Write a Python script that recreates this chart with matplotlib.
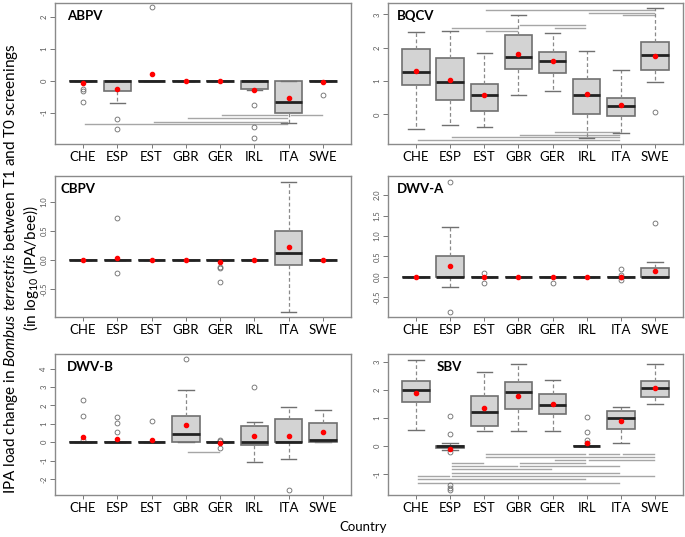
import matplotlib
matplotlib.use("Agg")
import matplotlib.pyplot as plt

countries = ['CHE', 'ESP', 'EST', 'GBR', 'GER', 'IRL', 'ITA', 'SWE']

# ABPV
abpv_q1 = [0, -0.32, 0, 0, 0, -0.27, -1.02, 0]
abpv_med = [0, 0, 0, 0, 0, 0, -0.67, 0]
abpv_q3 = [0, 0, 0, 0, 0, 0, 0, 0]
abpv_lo = [0, -0.71, 0, 0, 0, -0.28, -1.34, 0]
abpv_hi = [0, 0, 0, 0, 0, 0, 0, 0]
abpv_mean = [-0.06, -0.25, 0.22, 0, 0, -0.28, -0.55, -0.03]
abpv_out = [[-0.26, -0.31, -0.67], [-1.19, -1.51], [2.32], [], [],
            [-0.75, -1.46, -1.79], [], [-0.45]]
abpv_sig = [(0, 6, -1.37), (2, 6, -1.29), (3, 6, -1.18), (4, 6, -1.09), (6, 7, -1.09)]

# BQCV
bqcv_q1 = [0.89, 0.44, 0.10, 1.36, 1.24, 0.00, -0.05, 1.34]
bqcv_med = [1.27, 0.96, 0.59, 1.72, 1.61, 0.59, 0.25, 1.79]
bqcv_q3 = [1.96, 1.68, 0.90, 2.39, 1.86, 1.06, 0.50, 2.17]
bqcv_lo = [-0.45, -0.32, -0.37, 0.59, 0.69, -0.71, -0.57, 0.97]
bqcv_hi = [2.48, 2.51, 1.85, 2.99, 2.45, 1.90, 1.34, 3.20]
bqcv_mean = [1.30, 1.03, 0.57, 1.80, 1.59, 0.61, 0.27, 1.74]
bqcv_out = [[], [], [], [], [], [], [], [0.06]]
bqcv_sig = [(2, 7, 3.12), (5, 7, 3.05), (6, 7, 2.97), (3, 5, 2.67), (4, 5, 2.60),
            (1, 3, 2.58), (2, 3, 2.50), (4, 6, -0.53), (3, 6, -0.61), (1, 6, -0.69),
            (0, 6, -0.77)]

# CBPV
cbpv_q1 = [0, 0, 0, 0, 0, 0, -0.09, 0]
cbpv_med = [0, 0, 0, 0, 0, 0, 0.13, 0]
cbpv_q3 = [0, 0, 0, 0, 0, 0, 0.51, 0]
cbpv_lo = [0, 0, 0, 0, 0, 0, -0.90, 0]
cbpv_hi = [0, 0, 0, 0, 0, 0, 1.34, 0]
cbpv_mean = [0, 0.03, 0, 0, -0.03, 0, 0.22, 0]
cbpv_out = [[], [0.73, -0.23], [], [], [-0.11, -0.14, -0.37], [], [], []]
cbpv_sig = []

# DWV-A
dwva_q1 = [0, -0.02, 0, 0, 0, 0, 0, 0]
dwva_med = [0, 0, 0, 0, 0, 0, 0, 0]
dwva_q3 = [0, 0.51, 0, 0, 0, 0, 0, 0.22]
dwva_lo = [0, -0.26, 0, 0, 0, 0, 0, 0]
dwva_hi = [0, 1.22, 0, 0, 0, 0, 0, 0.35]
dwva_mean = [0, 0.25, -0.02, 0, -0.02, 0, 0, 0.15]
dwva_out = [[], [2.33, -0.86], [0.08, -0.15], [], [-0.16], [],
            [0.18, 0.05, -0.02, -0.08], [1.32]]
dwva_sig = []

# DWV-B
dwvb_q1 = [0, 0, 0, 0, 0, -0.17, 0, 0]
dwvb_med = [0, 0, 0, 0.47, 0, 0, 0, 0.10]
dwvb_q3 = [0, 0, 0, 1.44, 0, 0.91, 1.27, 1.03]
dwvb_lo = [0, 0, 0, 0, 0, -1.09, -0.90, 0]
dwvb_hi = [0, 0, 0, 2.82, 0, 1.12, 1.94, 1.78]
dwvb_mean = [0.26, 0.18, 0.10, 0.96, -0.03, 0.32, 0.36, 0.54]
dwvb_out = [[2.31, 1.43, 0.10], [1.36, 1.04, 0.55], [1.17], [4.51],
            [0.14, 0.07, -0.33], [3.0], [-2.6], []]
dwvb_sig = [(3, 4, -0.55)]

# SBV
sbv_q1 = [1.57, -0.07, 0.73, 1.34, 1.14, 0, 0.61, 1.77]
sbv_med = [2.00, 0, 1.23, 1.95, 1.46, 0, 1.01, 2.07]
sbv_q3 = [2.34, 0.02, 1.80, 2.29, 1.87, 0, 1.25, 2.34]
sbv_lo = [0.58, -0.15, 0.54, 0.55, 0.55, 0, 0.11, 1.51]
sbv_hi = [3.09, 0.13, 2.64, 2.95, 2.38, 0, 1.40, 2.95]
sbv_mean = [1.91, -0.10, 1.37, 1.80, 1.51, 0.11, 0.90, 2.08]
sbv_out = [[], [1.08, 0.42, -0.22, -1.40, -1.48, -1.57], [], [], [],
           [1.05, 0.52, 0.22, 0.12], [], []]
sbv_sig = [(2, 5, -0.275), (5, 6, -0.275), (6, 7, -0.275), (2, 7, -0.38),
           (4, 5, -0.50), (5, 7, -0.50), (1, 2, -0.61), (3, 5, -0.61),
           (1, 3, -0.71), (3, 6, -0.71), (1, 4, -0.83), (1, 6, -0.95),
           (0, 1, -1.06), (1, 7, -1.06), (0, 5, -1.18), (0, 6, -1.31)]

plt.rcParams['font.family'] = ['Lato', 'DejaVu Sans']
plt.rcParams['mathtext.fontset'] = 'custom'
plt.rcParams['mathtext.rm'] = 'Lato'
plt.rcParams['mathtext.it'] = 'Lato:italic'

panels = [
    ('ABPV', abpv_q1, abpv_med, abpv_q3, abpv_lo, abpv_hi, abpv_mean, abpv_out, abpv_sig,
     (-1.99, 2.45), [-1, 0, 1, 2], 0.04),
    ('BQCV', bqcv_q1, bqcv_med, bqcv_q3, bqcv_lo, bqcv_hi, bqcv_mean, bqcv_out, bqcv_sig,
     (-0.89, 3.34), [0, 1, 2, 3], 0.03),
    ('CBPV', cbpv_q1, cbpv_med, cbpv_q3, cbpv_lo, cbpv_hi, cbpv_mean, cbpv_out, cbpv_sig,
     (-0.98, 1.45), [-0.5, 0.0, 0.5, 1.0], 0.02),
    ('DWV-A', dwva_q1, dwva_med, dwva_q3, dwva_lo, dwva_hi, dwva_mean, dwva_out, dwva_sig,
     (-0.99, 2.47), [-0.5, 0.0, 0.5, 1.0, 1.5, 2.0], 0.03),
    ('DWV-B', dwvb_q1, dwvb_med, dwvb_q3, dwvb_lo, dwvb_hi, dwvb_mean, dwvb_out, dwvb_sig,
     (-2.87, 4.8), [-2, -1, 0, 1, 2, 3, 4], 0.04),
    ('SBV', sbv_q1, sbv_med, sbv_q3, sbv_lo, sbv_hi, sbv_mean, sbv_out, sbv_sig,
     (-1.74, 3.29), [-1, 0, 1, 2, 3], 0.165),
]

fig = plt.figure(figsize=(6.85, 5.37), dpi=100)
lefts = [55 / 685, 388 / 685]
widths = [296 / 685, 295 / 685]
tops = [3, 176, 354]

for k, (name, q1, med, q3, lo, hi, mean, out, sig, ylim, yt, tx) in enumerate(panels):
    r, c = divmod(k, 2)
    ax = fig.add_axes([lefts[c], 1 - (tops[r] + 141) / 537, widths[c], 141 / 537])
    pos = list(range(1, len(countries) + 1))

    # significance lines
    for a, b, y in sig:
        ax.plot([pos[a] + 0.06, pos[b] - 0.04], [y, y], color='#a6a6a6', lw=1, zorder=1)

    stats = [dict(q1=q1[i], med=med[i], q3=q3[i], whislo=lo[i], whishi=hi[i],
                  fliers=out[i]) for i in range(len(countries))]
    ax.bxp(stats, positions=pos, widths=0.8, patch_artist=True, capwidths=0.45,
           boxprops=dict(facecolor='#d3d3d3', edgecolor='#707070', lw=1.2),
           medianprops=dict(color='#222222', lw=2),
           whiskerprops=dict(color='#8a8a8a', lw=0.9, linestyle=(0, (3, 2))),
           capprops=dict(color='#707070', lw=1),
           flierprops=dict(marker='o', markerfacecolor='none', markeredgecolor='#6a6a6a',
                           markersize=3.5, markeredgewidth=0.6))
    ax.plot(pos, mean, 'o', color='red', markersize=3, zorder=5)

    ax.set_xlim(0.18, 8.82)
    ax.set_ylim(*ylim)
    ax.set_xticks(pos)
    ax.set_xticklabels(countries, fontsize=9.5)
    ax.set_yticks(yt)
    ax.set_yticklabels([('%g' % v) if isinstance(v, int) else ('%.1f' % v) for v in yt],
                       fontsize=5.5, rotation=90, va='center', color='#555555')
    ax.tick_params(axis='y', length=3.5, width=0.7, color='#777777', pad=2)
    ax.tick_params(axis='x', length=3, width=0.7, color='#777777', pad=2)
    for s in ax.spines.values():
        s.set_color('#8a8a8a')
        s.set_linewidth(1)
    ax.text(tx, 0.91, name, transform=ax.transAxes, fontsize=9.5, fontweight='bold',
            va='center', ha='left')

fig.text(0.016, 0.5, r'IPA load change in $\it{Bombus\ terrestris}$ between T1 and T0 screenings',
         rotation=90, ha='center', va='center', fontsize=11)
fig.text(0.045, 0.5, r'(in log$_{10}$ (IPA/bee))', rotation=90, ha='center', va='center',
         fontsize=11)
fig.text(363 / 685, 1 - 527 / 537, 'Country', ha='center', va='center', fontsize=9.5)

fig.savefig('out.png', dpi=100)
